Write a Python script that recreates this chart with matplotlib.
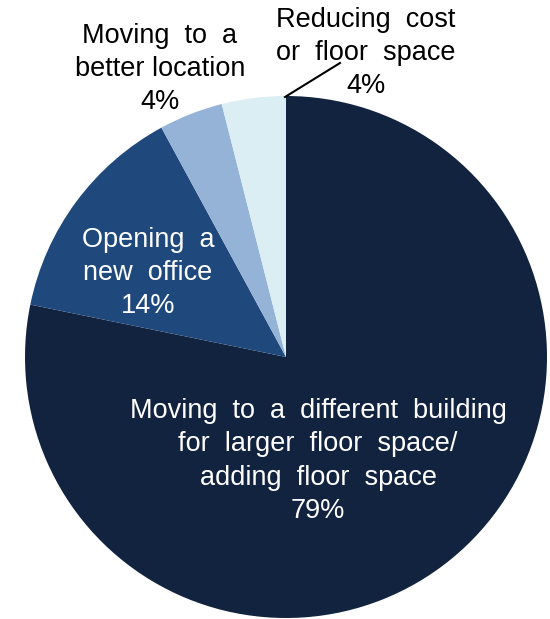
import matplotlib
matplotlib.use("Agg")
import matplotlib.pyplot as plt

plt.rcParams['font.family'] = ['Liberation Sans', 'DejaVu Sans']

# share of office moves by reason
labels = [
    "Moving  to  a  different  building\nfor  larger  floor  space/\nadding  floor  space\n79%",
    "Opening  a\nnew  office\n14%",
    "Moving  to  a\nbetter location\n4%",
    "Reducing  cost\nor  floor  space\n4%",
]
shares = [79, 14, 4, 4]
colors = ['#11233F', '#1F487C', '#95B3D7', '#DAEEF3']

fig = plt.figure(figsize=(5.5, 6.19), dpi=100)
ax = fig.add_axes([0, 0, 1, 1])

R = 261.0
cx, cy = 286.0, 357.0
W, H = 550.0, 619.0

wedges, _ = ax.pie(shares, colors=colors, startangle=90, counterclock=False,
                   radius=1.0, center=(0, 0),
                   wedgeprops=dict(linewidth=0))


def px(x, y):
    # pixel coordinates (top-left origin) to data units
    return (x - cx) / R, (cy - y) / R


ax.set_xlim(-cx / R, (W - cx) / R)
ax.set_ylim(-(H - cy) / R, cy / R)
ax.set_aspect('auto')
ax.axis('off')

fs = 19.5
ls = 1.36
ax.text(*px(318, 461), labels[0], ha='center', va='center', color='white',
        fontsize=fs, linespacing=ls)
ax.text(*px(148, 273), labels[1], ha='center', va='center', color='white',
        fontsize=fs, linespacing=ls)
ax.text(*px(160, 69), labels[2], ha='center', va='center', color='black',
        fontsize=fs, linespacing=ls)
ax.text(*px(366, 53), labels[3], ha='center', va='center', color='black',
        fontsize=fs, linespacing=ls)

# leader line for the small top slice
x0, y0 = px(285, 97)
x1, y1 = px(340, 63)
ax.plot([x0, x1], [y0, y1], color='black', linewidth=1.5)

fig.savefig('out.png', dpi=100)
